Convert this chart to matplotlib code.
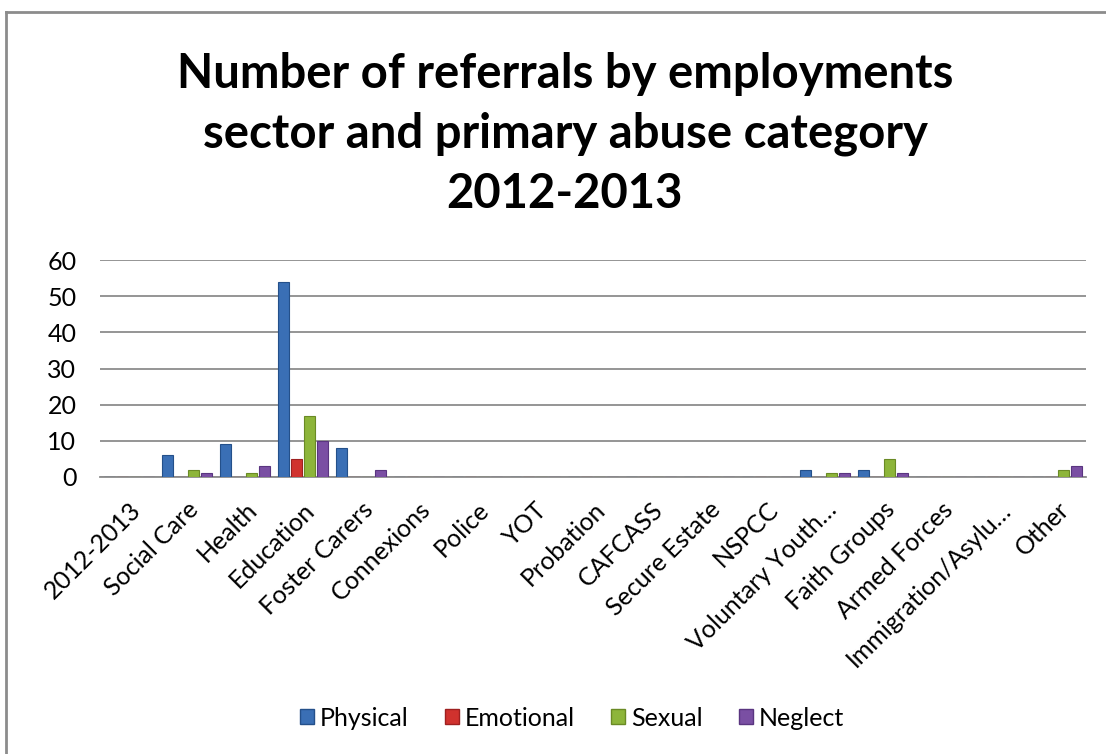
import matplotlib
matplotlib.use("Agg")
import matplotlib.pyplot as plt
import numpy as np
from matplotlib.lines import Line2D
from matplotlib.patches import Patch

categories = ["2012-2013", "Social Care", "Health", "Education", "Foster Carers",
              "Connexions", "Police", "YOT", "Probation", "CAFCASS", "Secure Estate",
              "NSPCC", "Voluntary Youth…", "Faith Groups", "Armed Forces",
              "Immigration/Asylu…", "Other"]
series_names = ["Physical", "Emotional", "Sexual", "Neglect"]
physical = [0, 6, 9, 54, 8, 0, 0, 0, 0, 0, 0, 0, 2, 2, 0, 0, 0]
emotional = [0, 0, 0, 5, 0, 0, 0, 0, 0, 0, 0, 0, 0, 0, 0, 0, 0]
sexual = [0, 2, 1, 17, 0, 0, 0, 0, 0, 0, 0, 0, 1, 5, 0, 0, 2]
neglect = [0, 1, 3, 10, 2, 0, 0, 0, 0, 0, 0, 0, 1, 1, 0, 0, 3]
yticks = [0, 10, 20, 30, 40, 50, 60]

colors = ["#3A6FB5", "#D0322E", "#8DB53A", "#7A4FA3"]
edges = ["#24508A", "#9E2020", "#6A8A25", "#5A3580"]

plt.rcParams['font.family'] = ['Lato', 'DejaVu Sans']

fig = plt.figure(figsize=(11.06, 7.54), dpi=100)
W, H = 1106, 754
ax = fig.add_axes([100 / W, (H - 477) / H, 986 / W, 217 / H])

x = np.arange(len(categories))
bw = 0.19
step = 0.224
data = [physical, emotional, sexual, neglect]
for i, (vals, c, e, name) in enumerate(zip(data, colors, edges, series_names)):
    ax.bar(x + (i - 1.5) * step, vals, width=bw, color=c, edgecolor=e,
           linewidth=0.8, label=name, zorder=3)

ax.set_xlim(-0.5, len(categories) - 0.5)
ax.set_ylim(0, 60)
ax.set_yticks(yticks)
ax.yaxis.grid(True, color="#8C8C8C", linewidth=1.3, zorder=0)
ax.set_axisbelow(True)
for s in ["left", "right", "top"]:
    ax.spines[s].set_visible(False)
ax.spines["bottom"].set_color("#8C8C8C")
ax.spines["bottom"].set_linewidth(1.3)
ax.tick_params(axis="both", length=0, labelsize=18, colors="#000000")
ax.tick_params(axis="y", pad=17)
ax.set_xticks(x)
ax.set_xticklabels(categories, rotation=45, ha="right", rotation_mode="anchor")
ax.tick_params(axis="x", pad=15)

fig.text(565 / W, 1 - 134 / H,
         "Number of referrals by employments\nsector and primary abuse category\n2012-2013",
         ha="center", va="center", fontsize=34, fontweight="bold",
         linespacing=1.43)

handles = [Patch(facecolor=c, edgecolor=e, label=n) for c, e, n in zip(colors, edges, series_names)]
fig.legend(handles=handles, loc="center", bbox_to_anchor=(572 / W, 1 - 718 / H),
           ncol=4, frameon=False, fontsize=18, handlelength=0.55, handleheight=0.55,
           handletextpad=0.25, columnspacing=1.45)

# outer chart border (top and left visible)
fig.add_artist(Line2D([6 / W, 6 / W], [0, 1 - 12 / H], color="#8C8C8C", linewidth=2,
                      transform=fig.transFigure))
fig.add_artist(Line2D([6 / W, 1], [1 - 12 / H, 1 - 12 / H], color="#8C8C8C", linewidth=2,
                      transform=fig.transFigure))

fig.savefig("out.png", dpi=100, facecolor="white")
